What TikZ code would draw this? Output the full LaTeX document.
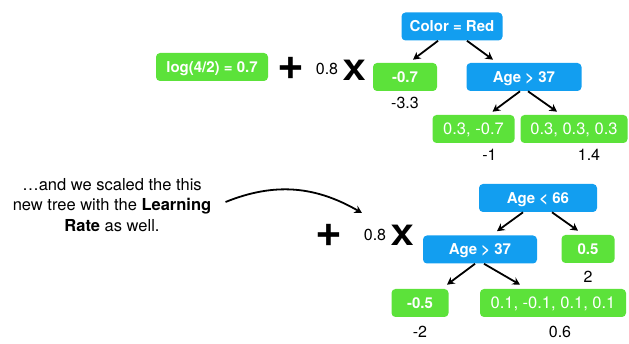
\documentclass[tikz,border=0pt]{standalone}
\usepackage{fontspec}
\setmainfont{TeX Gyre Heros}
\usetikzlibrary{positioning, arrows.meta}
\definecolor{splitblue}{RGB}{18,158,240}
\definecolor{leafgreen}{RGB}{92,226,58}

\begin{document}
\begin{tikzpicture}[x=1pt, y=1pt, semithick]
    \tikzstyle{box}=[
        rounded corners = 4pt,
        minimum height = 28pt,
        inner sep = 0pt,
        text = white
    ]
    \tikzstyle{split}=[box, fill = splitblue, font = \fontsize{15}{18}\selectfont\bfseries, text height = 11pt, text depth = 0pt]
    \tikzstyle{leaf}=[box, fill = leafgreen, font = \fontsize{15}{18}\selectfont\bfseries, text height = 11pt, text depth = 0pt]
    \tikzstyle{resid}=[box, fill = leafgreen, font = \fontsize{16.5}{20}\selectfont, text height = 12pt, text depth = 0pt]
    \tikzstyle{value}=[inner sep = 0pt, font = \fontsize{16}{19}\selectfont]
    \tikzstyle{plus}=[inner sep = 0pt, font = \fontsize{46}{46}\selectfont\bfseries]
    \tikzstyle{times}=[inner sep = 0pt, font = \fontsize{28}{28}\selectfont\bfseries]
    \tikzstyle{pointer}=[line width = 1.8pt, -{Stealth[length=7.5pt, width=8pt]}]

    \useasboundingbox (0,0) rectangle (629,344);

    % first tree, scaled by the learning rate
    \node[leaf, minimum width=112pt] (init) at (212,277) {log(4/2) = 0.7};
    \node[plus] (plusA) at (291,276) {+};
    \node[value] (rateA) at (327,275) {0.8};
    \node[times] (timesA) at (354,274) {\scalebox{1.25}[1]{X}};

    \node[split, minimum width=101pt] (color) at (452,317.5) {Color = Red};
    \node[leaf, minimum width=64pt] (m07) at (405,267) {-0.7};
    \node[split, minimum width=115pt] (age1) at (524,267) {Age > 37};
    \node[resid, minimum width=82pt] (la) at (473.5,215) {0.3, -0.7};
    \node[resid, minimum width=107pt] (lb) at (574,215) {0.3, 0.3, 0.3};

    \node[value, below=6pt of m07] (gm07) {-3.3};
    \node[value, below=6pt of la, xshift=16pt] (gla) {-1};
    \node[value, below=6pt of lb, xshift=15pt] (glb) {1.4};

    \path[pointer] ([xshift=-14pt]color.south) edge ([xshift=8pt, yshift=3pt]m07.north)
                   ([xshift=15pt]color.south) edge ([xshift=-31pt, yshift=3pt]age1.north)
                   ([xshift=-4pt]age1.south) edge ([xshift=19pt, yshift=3pt]la.north)
                   ([xshift=4pt]age1.south) edge ([xshift=-17pt, yshift=3pt]lb.north);

    % second tree
    \node[value, align=center, font=\fontsize{16.5}{20.5}\selectfont] (note) at (112,139)
        {…and we scaled the this\\new tree with the \textbf{Learning}\\\textbf{Rate} as well.};
    \coordinate (tip) at (362,131);
    \draw[pointer] ([xshift=14pt, yshift=3pt]note.east) to[out=22, in=150] (tip);

    \node[plus] (plusB) at (328.5,109) {+};
    \node[value] (rateB) at (375,109) {0.8};
    \node[times] (timesB) at (402,109) {\scalebox{1.25}[1]{X}};

    \node[split, minimum width=118pt] (age66) at (538,146) {Age < 66};
    \node[split, minimum width=114pt] (age2) at (480,94.5) {Age > 37};
    \node[leaf, minimum width=53pt] (n05) at (588,95) {0.5};
    \node[leaf, minimum width=57pt] (m05) at (420,41) {-0.5};
    \node[resid, minimum width=146pt] (lc) at (553,41) {0.1, -0.1, 0.1, 0.1};

    \node[value, below=8pt of n05] (gn05) {2};
    \node[value, below=9pt of m05] (gm05) {-2};
    \node[value, below=9pt of lc, xshift=7pt] (glc) {0.6};

    \path[pointer] ([xshift=-15pt]age66.south) edge ([xshift=17pt, yshift=4pt]age2.north)
                   ([xshift=14pt]age66.south) edge ([xshift=-10pt, yshift=4pt]n05.north)
                   ([xshift=-5pt]age2.south) edge ([xshift=27pt, yshift=4pt]m05.north)
                   ([xshift=4pt]age2.south) edge ([xshift=-33pt, yshift=4pt]lc.north);
\end{tikzpicture}
\end{document}
